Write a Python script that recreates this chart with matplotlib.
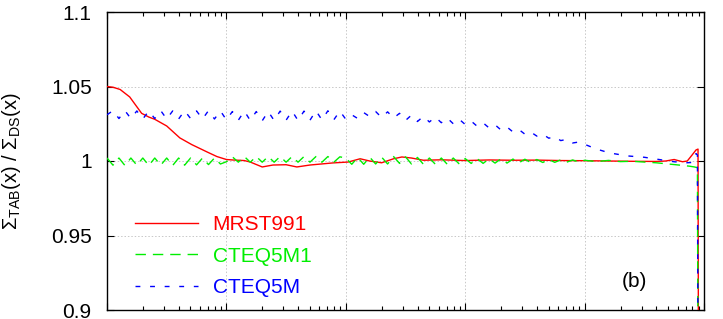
import matplotlib
matplotlib.use('Agg')
import matplotlib.pyplot as plt
import numpy as np
from matplotlib.ticker import LogLocator, NullFormatter

plt.rcParams['font.family'] = ['Liberation Sans', 'DejaVu Sans']
plt.rcParams['mathtext.fontset'] = 'custom'
plt.rcParams['mathtext.rm'] = 'Liberation Sans'
plt.rcParams['mathtext.it'] = 'Liberation Sans:italic'
plt.rcParams['mathtext.bf'] = 'Liberation Sans:bold'

# ---------------- data (log10 x, ratio) ----------------
MRST_LOGX = [-5.00, -4.95, -4.89, -4.81, -4.71, -4.65, -4.60, -4.50, -4.39, -4.29,
             -4.16, -4.08, -4.00, -3.95, -3.85, -3.80, -3.70, -3.61, -3.50, -3.41,
             -3.30, -3.11, -2.98, -2.88, -2.80, -2.70, -2.60, -2.53, -2.45, -2.35,
             -2.20, -2.00, -1.80, -1.60, -1.40, -1.20, -1.00, -0.80, -0.60, -0.40,
             -0.32, -0.25, -0.18, -0.14, -0.10, -0.067, -0.050, -0.045]
MRST_VAL = [1.0500, 1.0495, 1.0480, 1.0430, 1.0320, 1.0295, 1.0280, 1.0235, 1.0155, 1.0110,
            1.0060, 1.0030, 1.0010, 1.0007, 1.0003, 0.9993, 0.9960, 0.9973, 0.9975, 0.9960,
            0.9973, 0.9987, 0.9993, 1.0015, 1.0000, 0.9988, 1.0015, 1.0027, 1.0020, 1.0005,
            1.0008, 1.0003, 1.0007, 1.0005, 1.0006, 1.0003, 1.0002, 1.0000, 0.9998, 0.9997,
            1.0000, 1.0010, 0.9995, 1.0000, 1.0040, 1.0074, 1.0080, 0.8000]

CTEQ5M1_LOGX = [-5.00, -4.95, -4.90, -4.85, -4.80, -4.75, -4.70, -4.65, -4.60, -4.55,
                -4.50, -4.45, -4.40, -4.35, -4.30, -4.25, -4.20, -4.15, -4.10, -4.05,
                -4.00, -3.95, -3.90, -3.85, -3.80, -3.75, -3.70, -3.65, -3.60, -3.55,
                -3.50, -3.45, -3.40, -3.35, -3.30, -3.25, -3.20, -3.15, -3.10, -3.05,
                -3.00, -2.95, -2.90, -2.85, -2.80, -2.75, -2.70, -2.65, -2.60, -2.55,
                -2.50, -2.45, -2.40, -2.35, -2.30, -2.25, -2.20, -2.15, -2.10, -2.05,
                -2.00, -1.95, -1.90, -1.85, -1.80, -1.75, -1.70, -1.65, -1.60, -1.55,
                -1.50, -1.45, -1.40, -1.35, -1.30, -1.25, -1.20, -1.15, -1.10, -1.05,
                -1.00, -0.90, -0.80, -0.70, -0.60, -0.50, -0.40, -0.30, -0.20, -0.12,
                -0.08, -0.055, -0.048]
CTEQ5M1_VAL = [1.0020, 0.9972, 1.0020, 0.9970, 1.0020, 0.9972, 1.0020, 0.9970, 1.0020, 0.9972,
               1.0020, 0.9970, 1.0020, 0.9972, 1.0020, 0.9974, 1.0020, 0.9976, 1.0020, 0.9980,
               0.9995, 1.0028, 0.9992, 1.0030, 0.9992, 1.0030, 0.9992, 1.0030, 0.9992, 1.0030,
               0.9992, 1.0030, 0.9992, 1.0030, 0.9992, 1.0030, 0.9992, 1.0030, 0.9992, 1.0028,
               1.0020, 0.9978, 1.0024, 0.9978, 1.0026, 0.9980, 1.0026, 0.9980, 1.0030, 0.9984,
               1.0028, 0.9980, 1.0024, 0.9978, 1.0020, 0.9978, 1.0020, 0.9978, 1.0020, 0.9980,
               1.0016, 0.9984, 1.0016, 0.9984, 1.0015, 0.9986, 1.0015, 0.9986, 1.0013, 0.9988,
               1.0012, 0.9989, 1.0010, 0.9990, 1.0010, 0.9991, 1.0008, 0.9992, 1.0007, 0.9993,
               1.0005, 0.9996, 1.0004, 0.9996, 0.9998, 0.9993, 0.9988, 0.9980, 0.9972, 0.9965,
               0.9960, 0.9955, 0.8000]

CTEQ5M_LOGX = [-5.00, -4.95, -4.90, -4.85, -4.80, -4.75, -4.70, -4.65, -4.60, -4.55,
               -4.50, -4.45, -4.40, -4.35, -4.30, -4.25, -4.20, -4.15, -4.10, -4.05,
               -4.00, -3.95, -3.90, -3.85, -3.80, -3.75, -3.70, -3.65, -3.60, -3.55,
               -3.50, -3.45, -3.40, -3.35, -3.30, -3.25, -3.20, -3.15, -3.10, -3.05,
               -3.00, -2.95, -2.90, -2.85, -2.80, -2.75, -2.70, -2.65, -2.60, -2.55,
               -2.50, -2.45, -2.40, -2.35, -2.30, -2.25, -2.20, -2.15, -2.10, -2.05,
               -2.00, -1.95, -1.90, -1.85, -1.80, -1.75, -1.70, -1.65, -1.60, -1.55,
               -1.50, -1.45, -1.40, -1.35, -1.30, -1.25, -1.20, -1.15, -1.10, -1.05,
               -1.00, -0.90, -0.79, -0.64, -0.50, -0.36, -0.25, -0.15, -0.10, -0.067,
               -0.055, -0.048]
CTEQ5M_VAL = [1.0310, 1.0338, 1.0285, 1.0338, 1.0285, 1.0336, 1.0282, 1.0336, 1.0285, 1.0338,
              1.0282, 1.0336, 1.0282, 1.0338, 1.0285, 1.0336, 1.0282, 1.0338, 1.0282, 1.0336,
              1.0276, 1.0332, 1.0274, 1.0335, 1.0272, 1.0332, 1.0270, 1.0332, 1.0272, 1.0335,
              1.0274, 1.0335, 1.0272, 1.0335, 1.0274, 1.0337, 1.0276, 1.0337, 1.0277, 1.0335,
              1.0280, 1.0310, 1.0285, 1.0325, 1.0298, 1.0332, 1.0292, 1.0330, 1.0288, 1.0320,
              1.0272, 1.0308, 1.0265, 1.0300, 1.0262, 1.0295, 1.0257, 1.0288, 1.0250, 1.0280,
              1.0245, 1.0268, 1.0233, 1.0256, 1.0222, 1.0243, 1.0208, 1.0228, 1.0195, 1.0211,
              1.0180, 1.0194, 1.0167, 1.0180, 1.0153, 1.0163, 1.0137, 1.0145, 1.0121, 1.0127,
              1.0112, 1.0080, 1.0054, 1.0034, 1.0025, 1.0008, 0.9995, 0.9988, 0.9990, 1.0050,
              1.0040, 0.8000]

SERIES_LABELS = ['MRST991', 'CTEQ5M1', 'CTEQ5M']
YTICKS = [0.9, 0.95, 1.0, 1.05, 1.1]
YTICK_LABELS = ['0.9', '0.95', '1', '1.05', '1.1']
PANEL_TAG = '(b)'
YLABEL = r'$\Sigma_{\mathrm{TAB}}\mathrm{(x)\ /\ }\Sigma_{\mathrm{DS}}\mathrm{(x)}$'

# ---------------- figure ----------------
fig = plt.figure(figsize=(7.23, 3.19), dpi=100)
ax = fig.add_axes([107 / 723, 9 / 319, 597 / 723, 298 / 319])

ax.plot(10 ** np.array(MRST_LOGX), MRST_VAL, color='#ff0000', lw=1.0,
        label=SERIES_LABELS[0], zorder=3)
ax.plot(10 ** np.array(CTEQ5M1_LOGX), CTEQ5M1_VAL, color='#00ee00', lw=1.0,
        dashes=(7.5, 5.0), label=SERIES_LABELS[1], zorder=4)
ax.plot(10 ** np.array(CTEQ5M_LOGX), CTEQ5M_VAL, color='#0000ff', lw=1.0,
        dashes=(3.5, 7.0), label=SERIES_LABELS[2], zorder=5)

ax.set_xscale('log')
ax.set_xlim(1e-5, 1)
ax.set_ylim(0.9, 1.1)
ax.set_yticks(YTICKS)
ax.set_yticklabels(YTICK_LABELS)
ax.xaxis.set_major_locator(LogLocator(base=10, numticks=10))
ax.xaxis.set_minor_locator(LogLocator(base=10, subs=np.arange(2, 10), numticks=20))
ax.xaxis.set_major_formatter(NullFormatter())
ax.xaxis.set_minor_formatter(NullFormatter())

ax.tick_params(which='both', direction='in', top=True, right=True, color='black')
ax.tick_params(which='major', length=5, width=0.8, labelsize=15, pad=11)
ax.tick_params(which='minor', length=3, width=0.8)

ax.grid(True, which='major', linestyle=(0, (1.5, 2.0)), color='#c8c8c8', lw=0.7, zorder=0)
for s in ax.spines.values():
    s.set_linewidth(1.0)
    s.set_color('black')

ax.set_ylabel(YLABEL, fontsize=14.5)
ax.yaxis.set_label_coords(-0.14, 0.5)

leg = ax.legend(loc='center left', bbox_to_anchor=(0.047, 0.181), frameon=False,
                fontsize=15, handlelength=3.0, handletextpad=0.72, labelspacing=0.6,
                borderpad=0, borderaxespad=0, labelcolor='linecolor')

ax.text(0.884, 0.094, PANEL_TAG, transform=ax.transAxes, ha='center', va='center',
        fontsize=15)

fig.savefig('out.png', dpi=100)
